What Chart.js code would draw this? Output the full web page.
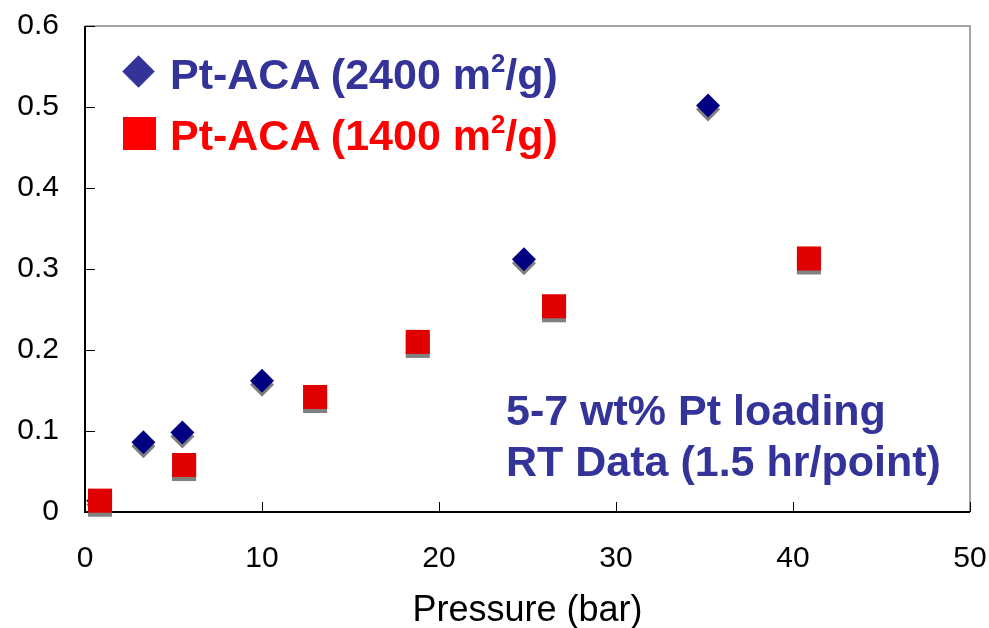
<!DOCTYPE html>
<html>
<head>
<meta charset="utf-8">
<script src="https://cdn.jsdelivr.net/npm/chart.js@4"></script>
<style>
  body { margin: 0; background: #fff; }
  #wrap { position: relative; width: 989px; height: 628px; font-family: 'Liberation Sans', Arial, sans-serif; }
  .txt { position: absolute; font-weight: bold; line-height: 1; white-space: nowrap; }
  .txt sup { font-size: 0.6em; vertical-align: 0.65em; line-height: 0; }
  .blue { color: #333399; }
  .red { color: #ff0000; }
  .mark { position: absolute; }
</style>
</head>
<body>
<div id="wrap">
  <canvas id="chart" width="989" height="628"></canvas>
  <div class="mark" style="left:127px;top:60px;width:23px;height:23px;background:#333399;transform:rotate(45deg);"></div>
  <div class="txt blue" style="left:170px;top:53px;font-size:43px;">Pt-ACA (2400 m<sup>2</sup>/g)</div>
  <div class="mark" style="left:123px;top:117px;width:33px;height:33px;background:#ff0000;"></div>
  <div class="txt red" style="left:170px;top:114px;font-size:43px;">Pt-ACA (1400 m<sup>2</sup>/g)</div>
  <div class="txt blue" style="left:506px;top:389px;font-size:43px;">5-7 wt% Pt loading</div>
  <div class="txt blue" style="left:506px;top:440px;font-size:43px;">RT Data (1.5 hr/point)</div>
</div>
<script>
// values
const pressure2400 = [0.75, 3.3, 5.5, 10.0, 24.8, 35.2];
const uptake2400 = [0.014, 0.086, 0.098, 0.162, 0.312, 0.502];
const pressure1400 = [0.85, 5.6, 13.0, 18.8, 26.5, 40.9];
const uptake1400 = [0.014, 0.058, 0.142, 0.210, 0.254, 0.313];
const xTicks = [0, 10, 20, 30, 40, 50];
const yTicks = [0, 0.1, 0.2, 0.3, 0.4, 0.5, 0.6];

document.addEventListener('DOMContentLoaded', function() {
    Chart.defaults.font.family = "'Liberation Sans', Arial, sans-serif";
    Chart.defaults.color = '#000';

    // frame, inward tick marks and the grey drop shadow under markers
    const framePlugin = {
        id: 'frame',
        beforeDatasetsDraw(chart) {
            const ctx = chart.ctx;
            const a = chart.chartArea;
            const x = chart.scales.x;
            const y = chart.scales.y;
            ctx.save();
            ctx.strokeStyle = '#888';
            ctx.lineWidth = 1.5;
            ctx.beginPath();
            ctx.moveTo(a.left, a.top);
            ctx.lineTo(a.right, a.top);
            ctx.lineTo(a.right, a.bottom);
            ctx.stroke();
            ctx.strokeStyle = '#000';
            ctx.lineWidth = 1;
            ctx.beginPath();
            xTicks.forEach(v => {
                const px = Math.round(x.getPixelForValue(v)) + 0.5;
                ctx.moveTo(px, a.bottom);
                ctx.lineTo(px, a.bottom - 10);
            });
            yTicks.forEach(v => {
                const py = Math.round(y.getPixelForValue(v)) + 0.5;
                ctx.moveTo(a.left, py);
                ctx.lineTo(a.left + 10, py);
            });
            ctx.stroke();
            ctx.lineWidth = 2;
            ctx.beginPath();
            ctx.moveTo(a.left, a.top);
            ctx.lineTo(a.left, a.bottom);
            ctx.lineTo(a.right, a.bottom);
            ctx.stroke();
            ctx.restore();

            ctx.save();
            ctx.shadowColor = '#808080';
            ctx.shadowOffsetX = 0;
            ctx.shadowOffsetY = 4;
            ctx.shadowBlur = 0;
        },
        afterDatasetsDraw(chart) {
            chart.ctx.restore();
        }
    };

    function noPad(s) {
        s.paddingTop = 0;
        s.paddingBottom = 0;
        s.paddingLeft = 0;
        s.paddingRight = 0;
    }

    const ctx = document.getElementById('chart');
    new Chart(ctx, {
        type: 'scatter',
        data: {
            datasets: [{
                label: 'Pt-ACA (2400 m²/g)',
                data: pressure2400.map((p, i) => ({ x: p, y: uptake2400[i] })),
                pointStyle: 'rectRot',
                pointRadius: 12,
                pointBorderWidth: 0,
                backgroundColor: '#000080',
                order: 1,
                clip: false
            }, {
                label: 'Pt-ACA (1400 m²/g)',
                data: pressure1400.map((p, i) => ({ x: p, y: uptake1400[i] })),
                pointStyle: 'rect',
                pointRadius: 17,
                pointBorderWidth: 0,
                backgroundColor: '#e00000',
                order: 0,
                clip: false
            }]
        },
        options: {
            responsive: false,
            animation: false,
            layout: { padding: { top: 26, right: 19, left: 0, bottom: 0 } },
            plugins: {
                legend: { display: false },
                tooltip: { enabled: false }
            },
            scales: {
                x: {
                    type: 'linear',
                    min: 0,
                    max: 50,
                    grid: { display: false },
                    border: { display: false },
                    afterBuildTicks: s => { s.ticks = xTicks.map(v => ({ value: v })); },
                    afterFit: s => { s.height = 116; noPad(s); },
                    ticks: { font: { size: 30 }, padding: 21, maxRotation: 0 },
                    title: {
                        display: true,
                        text: 'Pressure (bar)',
                        font: { size: 36, lineHeight: 0.9 },
                        padding: { top: 0, bottom: 1 }
                    }
                },
                y: {
                    min: 0,
                    max: 0.6,
                    grid: { display: false },
                    border: { display: false },
                    afterBuildTicks: s => { s.ticks = yTicks.map(v => ({ value: v })); },
                    afterFit: s => { s.width = 85; noPad(s); },
                    ticks: { font: { size: 30 }, padding: 18, callback: v => String(v) }
                }
            }
        },
        plugins: [framePlugin]
    });
});
</script>
</body>
</html>
